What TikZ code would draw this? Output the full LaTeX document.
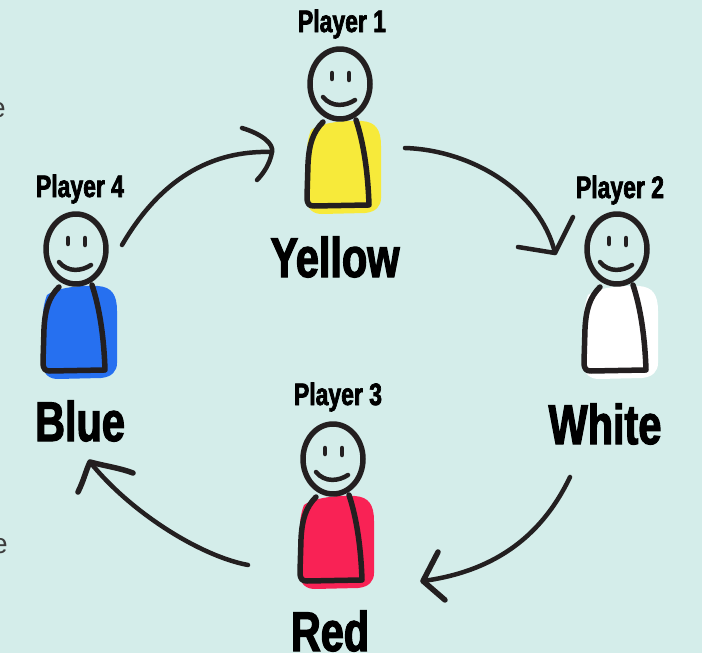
\documentclass[tikz,border=0pt]{standalone}
\usepackage{fontspec}
\newfontfamily\impfont{Liberation Sans}[UprightFont=* Bold,FakeStretch=0.74,FakeBold=2.2]
\newfontfamily\greyfont{Liberation Sans}
\definecolor{bgteal}{RGB}{212,237,234}
\definecolor{ink}{RGB}{35,31,32}
\definecolor{pyellow}{RGB}{247,234,58}
\definecolor{pblue}{RGB}{38,112,240}
\definecolor{pred}{RGB}{249,34,85}
\definecolor{pwhite}{RGB}{255,255,255}
\definecolor{greytext}{RGB}{60,60,60}
\tikzset{
  inkline/.style={draw=ink,line width=5.5pt,line cap=round,line join=round},
  arrowline/.style={draw=ink,line width=4.5pt,line cap=round,line join=round},
  playerlabel/.style={font=\impfont\fontsize{31}{31}\selectfont,text=black,inner sep=0pt},
  colourlabel/.style={font=\impfont\fontsize{56}{56}\selectfont,text=black,inner sep=0pt},
  person/.pic={
    % fill blob
    \fill[fill=\pcol] (-29,46) .. controls (-32,54) and (-33,60) .. (-33,70)
      -- (-33,115) .. controls (-33,126) and (-26,130) .. (-18,130)
      -- (25,129) .. controls (36,128) and (41,122) .. (41,114)
      -- (41,62) .. controls (41,46) and (36,38) .. (22,37)
      .. controls (8,36) and (-18,38) .. (-29,46) -- cycle;
    % body outline
    \draw[inkline] (-17,38) .. controls (-27,48) and (-31,60) .. (-32,80)
      -- (-33,113) .. controls (-33,120) and (-31,122) .. (-26,122)
      -- (28,121);
    \draw[inkline] (16,36) .. controls (24,60) and (28,90) .. (29,121);
    % head
    \draw[inkline] (0,0) ellipse [x radius=30, y radius=35];
    % eyes
    \draw[inkline,line width=4.5pt] (-8,-11) -- (-8,-5);
    \draw[inkline,line width=4.5pt] (9,-11) -- (9,-4);
    % smile
    \draw[inkline,line width=4.5pt] (-17,13) .. controls (-8,24) and (6,22) .. (15,16);
  }
}
\newcommand{\pcol}{pyellow}
\begin{document}
\begin{tikzpicture}[x=1pt,y=-1pt]
\useasboundingbox (0,0) rectangle (702,653);
\fill[bgteal] (0,0) rectangle (702,653);
\begin{scope}
\clip (0,0) rectangle (702,653);
% cut-off text at the left edge
\node[anchor=east,inner sep=0pt,text=greytext,font=\greyfont\fontsize{28}{28}\selectfont] (cutA) at (6,110) {e};
\node[anchor=east,inner sep=0pt,text=greytext,font=\greyfont\fontsize{28}{28}\selectfont] (cutB) at (8,546) {e};

% figures
\renewcommand{\pcol}{pyellow}
\pic (fig1) at (340,84) {person};
\renewcommand{\pcol}{pwhite}
\pic (fig2) at (617,249) {person};
\renewcommand{\pcol}{pred}
\pic (fig3) at (333,459) {person};
\renewcommand{\pcol}{pblue}
\pic (fig4) at (76,249) {person};

% labels
\node[playerlabel] (p1) at (342,24) {Player 1};
\node[playerlabel] (p2) at (620,190) {Player 2};
\node[playerlabel] (p3) at (338,397) {Player 3};
\node[playerlabel] (p4) at (80,189) {Player 4};
\node[colourlabel] (c1) at (335,257) {Yellow};
\node[colourlabel] (c2) at (605,424) {White};
\node[colourlabel] (c3) at (330,631) {Red};
\node[colourlabel] (c4) at (80,421) {Blue};

% arrow end points
\coordinate (a12s) at (405,148);
\coordinate (a12t) at (555,253);
\coordinate (a23s) at (570,477);
\coordinate (a23t) at (423,581);
\coordinate (a34s) at (248,565);
\coordinate (a34t) at (90,462);
\coordinate (a41s) at (122,245);
\coordinate (a41t) at (272,152);

% arrow 1 -> 2
\draw[arrowline] (a12s) .. controls (470,150) and (540,190) .. (a12t);
\draw[arrowline] (518,247) -- (a12t) -- (573,217);
% arrow 2 -> 3
\draw[arrowline] (a23s) .. controls (540,540) and (490,572) .. (a23t);
\draw[arrowline,line width=5.5pt] (438,552) -- (a23t) -- (445,600);
% arrow 3 -> 4
\draw[arrowline] (a34s) .. controls (200,556) and (130,512) .. (a34t);
\draw[arrowline,line width=5.5pt] (78,492) .. controls (84,480) and (86,470) .. (a34t) .. controls (105,466) and (120,468) .. (133,473);
% arrow 4 -> 1
\draw[arrowline] (a41s) .. controls (160,180) and (210,150) .. (a41t);
\draw[arrowline] (242,128) .. controls (262,134) and (274,144) .. (a41t) .. controls (270,164) and (263,174) .. (257,180);
\end{scope}
\end{tikzpicture}
\end{document}
